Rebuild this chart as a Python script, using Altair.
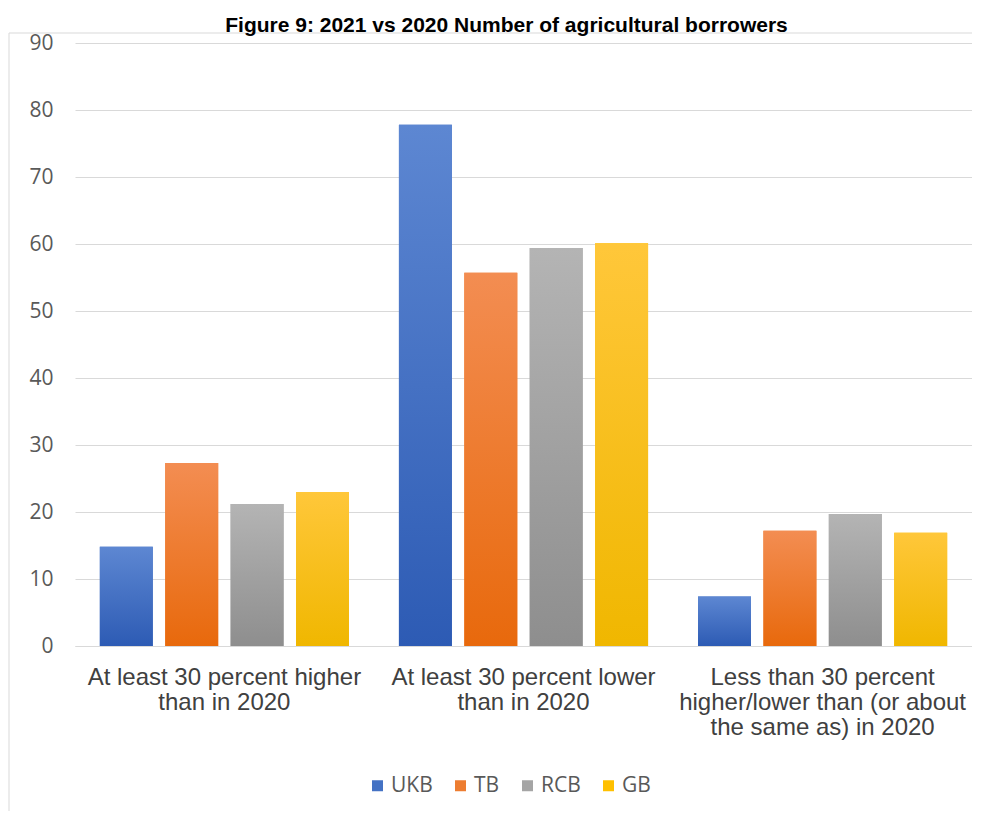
import altair as alt
import pandas as pd

categories = [
    "At least 30 percent higher than in 2020",
    "At least 30 percent lower than in 2020",
    "Less than 30 percent higher/lower than (or about the same as) in 2020",
]
label_lines = [
    ["At least 30 percent higher", "than in 2020"],
    ["At least 30 percent lower", "than in 2020"],
    ["Less than 30 percent", "higher/lower than (or about", "the same as) in 2020"],
]
series = ["UKB", "TB", "RCB", "GB"]
ukb = [14.8, 77.8, 7.4]
tb = [27.3, 55.7, 17.2]
rcb = [21.2, 59.4, 19.7]
gb = [23.0, 60.1, 16.9]

legend_colors = ["#4472c4", "#ed7d31", "#a5a5a5", "#ffc000"]
grad_top = ["#5d87d2", "#f38d52", "#b4b4b4", "#ffc73a"]
grad_bottom = ["#2d5bb4", "#e8690c", "#8e8e8e", "#f0b700"]

rows = []
for s, vals in zip(series, [ukb, tb, rcb, gb]):
    for c, v in zip(categories, vals):
        rows.append({"category": c, "series": s, "value": v})
df = pd.DataFrame(rows)

label_expr = " : ".join(
    f"datum.label == {c!r} ? {lines!r}" for c, lines in zip(categories, label_lines)
) + " : datum.label"

x_enc = alt.X(
    "category:N",
    sort=categories,
    scale=alt.Scale(paddingInner=0.167, paddingOuter=0.083),
    axis=alt.Axis(
        title=None,
        labelAngle=0,
        labelExpr=label_expr,
        labelFont="Liberation Sans, Arial",
        labelFontSize=24,
        labelColor="#404040",
        labelLineHeight=25,
        labelPadding=19,
        ticks=False,
        domain=True,
        domainColor="#d9d9d9",
        domainWidth=1,
        labelLimit=400,
    ),
)
xo_enc = alt.XOffset(
    "series:N", sort=series,
    scale=alt.Scale(domain=series, paddingInner=0.19, paddingOuter=0.0),
)
y_enc = alt.Y(
    "value:Q",
    scale=alt.Scale(domain=[0, 90], nice=False),
    axis=alt.Axis(
        title=None,
        values=list(range(0, 91, 10)),
        labelFont="Open Sans",
        labelFontSize=21,
        labelColor="#595959",
        labelPadding=22,
        ticks=False,
        domain=False,
        grid=True,
        gridColor="#d9d9d9",
        gridWidth=1,
    ),
)

base = alt.Chart(df).mark_bar().encode(
    x=x_enc,
    xOffset=xo_enc,
    y=y_enc,
    color=alt.Color(
        "series:N",
        sort=series,
        scale=alt.Scale(domain=series, range=legend_colors),
        legend=alt.Legend(
            title=None,
            orient="none",
            legendX=292,
            legendY=732,
            direction="horizontal",
            symbolType="square",
            symbolSize=121,
            symbolStrokeWidth=0,
            labelFont="Open Sans",
            labelFontSize=21,
            labelColor="#595959",
            labelOffset=3,
            columnPadding=17,
        ),
    ),
)

layers = [base]
for s, top, bot in zip(series, grad_top, grad_bottom):
    grad = alt.Gradient(
        gradient="linear", x1=0, x2=0, y1=0, y2=1,
        stops=[alt.GradientStop(color=top, offset=0),
               alt.GradientStop(color=bot, offset=1)],
    )
    layers.append(
        alt.Chart(df).transform_filter(alt.datum.series == s)
        .mark_bar(fill=grad)
        .encode(x=x_enc, xOffset=xo_enc, y=y_enc)
    )

frame = alt.Chart(alt.Data(values=[{"a": 1}])).mark_rect(
    filled=False, stroke="#d9d9d9", strokeWidth=1
).encode(
    x=alt.value(-66), x2=alt.value(1000), y=alt.value(-10), y2=alt.value(1000)
)

chart = alt.layer(frame, *layers).properties(
    width=897,
    height=603,
    title=alt.TitleParams(
        "Figure 9: 2021 vs 2020 Number of agricultural borrowers",
        font="Liberation Sans",
        fontSize=21,
        fontWeight="bold",
        color="#000000",
        anchor="middle",
        baseline="alphabetic",
        dx=-17,
        offset=-21,
    ),
    autosize=alt.AutoSizeParams(type="none"),
    padding={"left": 67, "top": 35, "right": 0, "bottom": 165},
).configure_view(stroke=None)

chart.save("out.html", embed_options={"renderer": "svg", "actions": False})
